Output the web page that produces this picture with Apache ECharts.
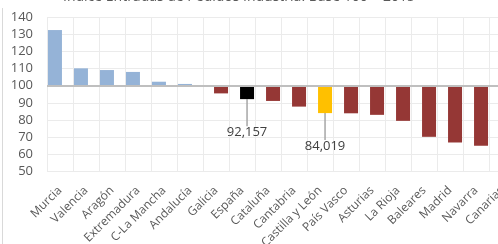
<!DOCTYPE html>
<html>
<head>
<meta charset="utf-8">
<script src="https://cdn.jsdelivr.net/npm/echarts@6/dist/echarts.min.js"></script>
<style>
html, body {margin: 0; padding: 0; background: #fff;}
#chart {width: 498px; height: 244px;}
</style>
</head>
<body>
<div id="chart"></div>
<script>
var categories = ['Murcia', 'Valencia', 'Aragón', 'Extremadura', 'C-La Mancha', 'Andalucía', 'Galicia', 'España', 'Cataluña', 'Cantabria', 'Castilla y León', 'País Vasco', 'Asturias', 'La Rioja', 'Baleares', 'Madrid', 'Navarra', 'Canarias'];
var values = [132.4, 110.1, 109.1, 108.0, 102.3, 101.0, 95.5, 92.157, 91.1, 87.8, 84.019, 83.9, 83.0, 79.5, 70.2, 66.9, 65.0, 60.5];
var yTicks = [50, 140, 10];
var baseValue = 100;
var titleText = 'Índice Entradas de Pedidos Industria. Base 100 = 2015';
var labelled = ['España', 'Castilla y León'];
var highlight = {'España': '#000000', 'Castilla y León': '#ffc000'};

function fmtLabel (v) {
    return v.toFixed(3).replace('.', ',');
};

// bars start at 100: transparent base + visible part, two stacks side by side
var upBase = values.map(function(v){return v >= baseValue ? baseValue : '-';});
var upBar = values.map(function(v){return v >= baseValue ? +(v - baseValue).toFixed(3) : '-';});
var downBase = values.map(function(v){return v < baseValue ? v : '-';});
var downBar = values.map(function(v, i){
    if (v >= baseValue) return '-';
    let item = {value: +(baseValue - v).toFixed(3)};
    let c = highlight[categories[i]];
    if (c) item.itemStyle = {color: c};
    if (labelled.indexOf(categories[i]) >= 0) {
        item.label = {show: true};
        item.labelLine = {show: true};
    }
    return item;
});

var chart = echarts.init(document.getElementById('chart'));
var opt = {
    animation: false,
    // title sits mostly above the visible area in the original
    graphic: [
        {type: 'text', silent: true, style: {text: titleText, x: 239, y: 4.5, align: 'center', verticalAlign: 'bottom',
                                             font: '14px "Open Sans"', fill: '#595959'}},
        {type: 'line', shape: {x1: 2.5, y1: 8, x2: 2.5, y2: 244}, style: {stroke: '#d9d9d9', lineWidth: 1}, silent: true}
    ],
    grid: {left: 47, top: 17, width: 468, height: 154.5, outerBoundsMode: 'none', containLabel: false},
    xAxis: {
        type: 'category',
        data: categories,
        axisLine: {show: false},
        axisTick: {show: false},
        splitLine: {show: true, lineStyle: {color: '#ebebeb', width: 1}},
        axisLabel: {rotate: 45, margin: 17, interval: 0, fontFamily: 'Open Sans', fontSize: 12, color: '#595959'}
    },
    yAxis: {
        type: 'value',
        min: yTicks[0], max: yTicks[1], interval: yTicks[2],
        axisLine: {show: false},
        axisTick: {show: false},
        splitLine: {lineStyle: {color: '#ebebeb', width: 1}},
        axisLabel: {margin: 14, fontFamily: 'Open Sans', fontSize: 13, color: '#595959'}
    },
    series: [
        {type: 'bar', stack: 'up', data: upBase, itemStyle: {color: 'transparent'}, barWidth: 14, barGap: '-28%', silent: true},
        {type: 'bar', stack: 'up', data: upBar, itemStyle: {color: '#95b3d7'}, barWidth: 14, barGap: '-28%',
         markLine: {silent: true, symbol: 'none', data: [{yAxis: baseValue}], label: {show: false},
                    lineStyle: {color: '#bfbfbf', width: 2, type: 'solid'}}},
        {type: 'bar', stack: 'down', data: downBase, itemStyle: {color: 'transparent'}, barWidth: 14, barGap: '-28%', silent: true},
        {type: 'bar', stack: 'down', data: downBar, itemStyle: {color: '#953735'}, barWidth: 14, barGap: '-28%',
         label: {show: false, position: 'bottom', distance: 2, fontFamily: 'Open Sans', fontSize: 13, color: '#404040',
                 formatter: function(p){return fmtLabel(values[p.dataIndex]);}},
         labelLine: {show: false, lineStyle: {color: '#a6a6a6', width: 1.5}},
         labelLayout: function(p){
             if (p.labelRect == null) return {};
             return {dy: 25};
         }}
    ]
};
chart.setOption(opt);
</script>
</body>
</html>
